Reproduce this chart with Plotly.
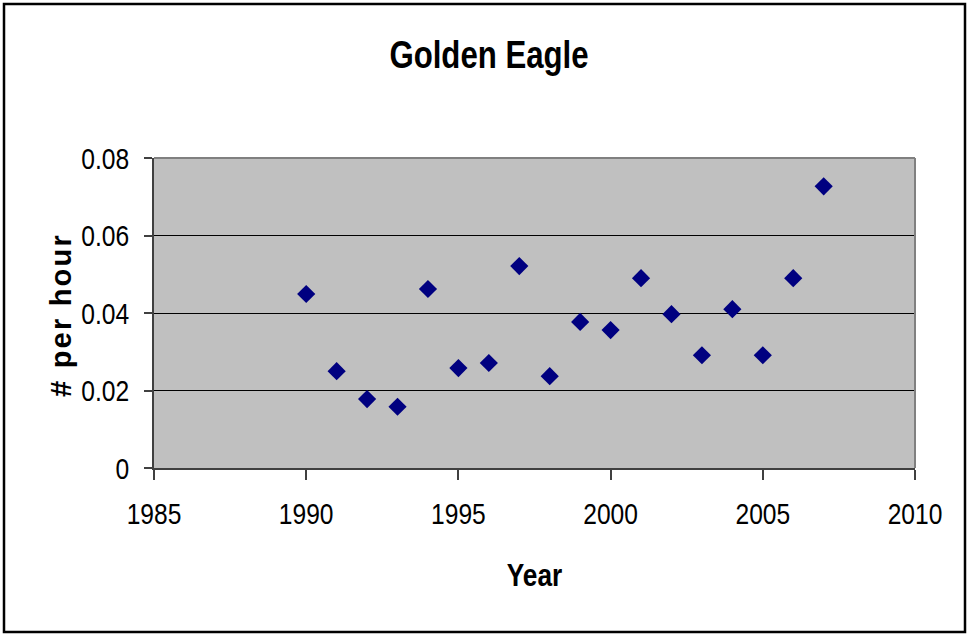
import plotly.graph_objects as go

# Golden Eagle sightings per observation hour
years = [1990, 1991, 1992, 1993, 1994, 1995, 1996, 1997, 1998,
         1999, 2000, 2001, 2002, 2003, 2004, 2005, 2006, 2007]
per_hour = [0.0449, 0.0250, 0.0178, 0.0158, 0.0462, 0.0258, 0.0271, 0.0521, 0.0237,
            0.0377, 0.0356, 0.0490, 0.0397, 0.0291, 0.0410, 0.0291, 0.0490, 0.0727]

x_ticks = [1985, 1990, 1995, 2000, 2005, 2010]
y_ticks = [0, 0.02, 0.04, 0.06, 0.08]
y_tick_text = ["0", "0.02", "0.04", "0.06", "0.08"]

FONT = "Liberation Sans, Arial, sans-serif"

fig = go.Figure(
    go.Scatter(
        x=years, y=per_hour, mode="markers",
        marker=dict(symbol="diamond", size=14, color="#000080",
                    line=dict(width=0)),
        showlegend=False, hoverinfo="x+y",
    )
)

fig.update_layout(
    width=969, height=635,
    margin=dict(l=154, r=54, t=158, b=167),
    paper_bgcolor="white",
    plot_bgcolor="#c0c0c0",
    font=dict(family=FONT, color="black", size=22),
    title=dict(text="<b>Golden Eagle</b>", x=489 / 969, xanchor="center",
               y=1 - 55 / 635, yanchor="middle",
               font=dict(family=FONT, size=38, color="black")),
    xaxis=dict(
        range=[1985, 2010], tickvals=x_ticks, ticktext=[str(v) for v in x_ticks],
        showgrid=False, zeroline=False,
        showline=True, linecolor="#404040", linewidth=1.5,
        ticks="outside", ticklen=10, tickcolor="#404040", tickwidth=1.5,
        ticklabelstandoff=8,
        tickfont=dict(family=FONT, size=30),
        title=dict(text="<b>Year</b>", font=dict(family=FONT, size=32), standoff=35),
    ),
    yaxis=dict(
        range=[0, 0.08], tickvals=y_ticks, ticktext=y_tick_text,
        showgrid=True, gridcolor="black", gridwidth=1,
        zeroline=False,
        showline=True, linecolor="#404040", linewidth=1.5,
        ticks="outside", ticklen=8, tickcolor="#404040", tickwidth=1.5,
        ticklabelstandoff=9,
        tickfont=dict(family=FONT, size=30),
    ),
    annotations=[
        dict(text="<b># per hour</b>", textangle=-90,
             xref="paper", yref="paper", x=(61 - 154) / 761, y=(468 - 316) / 310,
             xanchor="center", yanchor="middle", showarrow=False,
             font=dict(family=FONT, size=29, color="black")),
    ],
    shapes=[
        # gray border on top/right of plot area
        dict(type="line", xref="paper", yref="paper", x0=0, x1=1, y0=1, y1=1,
             line=dict(color="#808080", width=2)),
        dict(type="line", xref="paper", yref="paper", x0=1, x1=1, y0=0, y1=1,
             line=dict(color="#808080", width=2)),
        # outer chart frame
        dict(type="rect", xref="paper", yref="paper",
             x0=-150 / 761, x1=1 + 50 / 761, y0=-164 / 310, y1=1 + 154 / 310,
             line=dict(color="black", width=2.5), layer="above"),
    ],
)

# Condensed lettering on the horizontal labels; the vertical axis title
# is spaced out to its full length instead.
post = """
var gd = document.getElementById('{plot_id}');
function fit(sel, f, mode) {
  gd.querySelectorAll(sel).forEach(function (t) {
    var w = t.getComputedTextLength();
    t.setAttribute('textLength', (w * f).toFixed(1));
    t.setAttribute('lengthAdjust', mode);
  });
}
fit('.xtick text', 0.82, 'spacingAndGlyphs');
fit('.ytick text', 0.82, 'spacingAndGlyphs');
fit('text.gtitle', 0.82, 'spacingAndGlyphs');
fit('text.xtitle', 0.82, 'spacingAndGlyphs');
fit('text.annotation-text', 1.14, 'spacing');
"""

fig.write_html("out.html", post_script=post)
